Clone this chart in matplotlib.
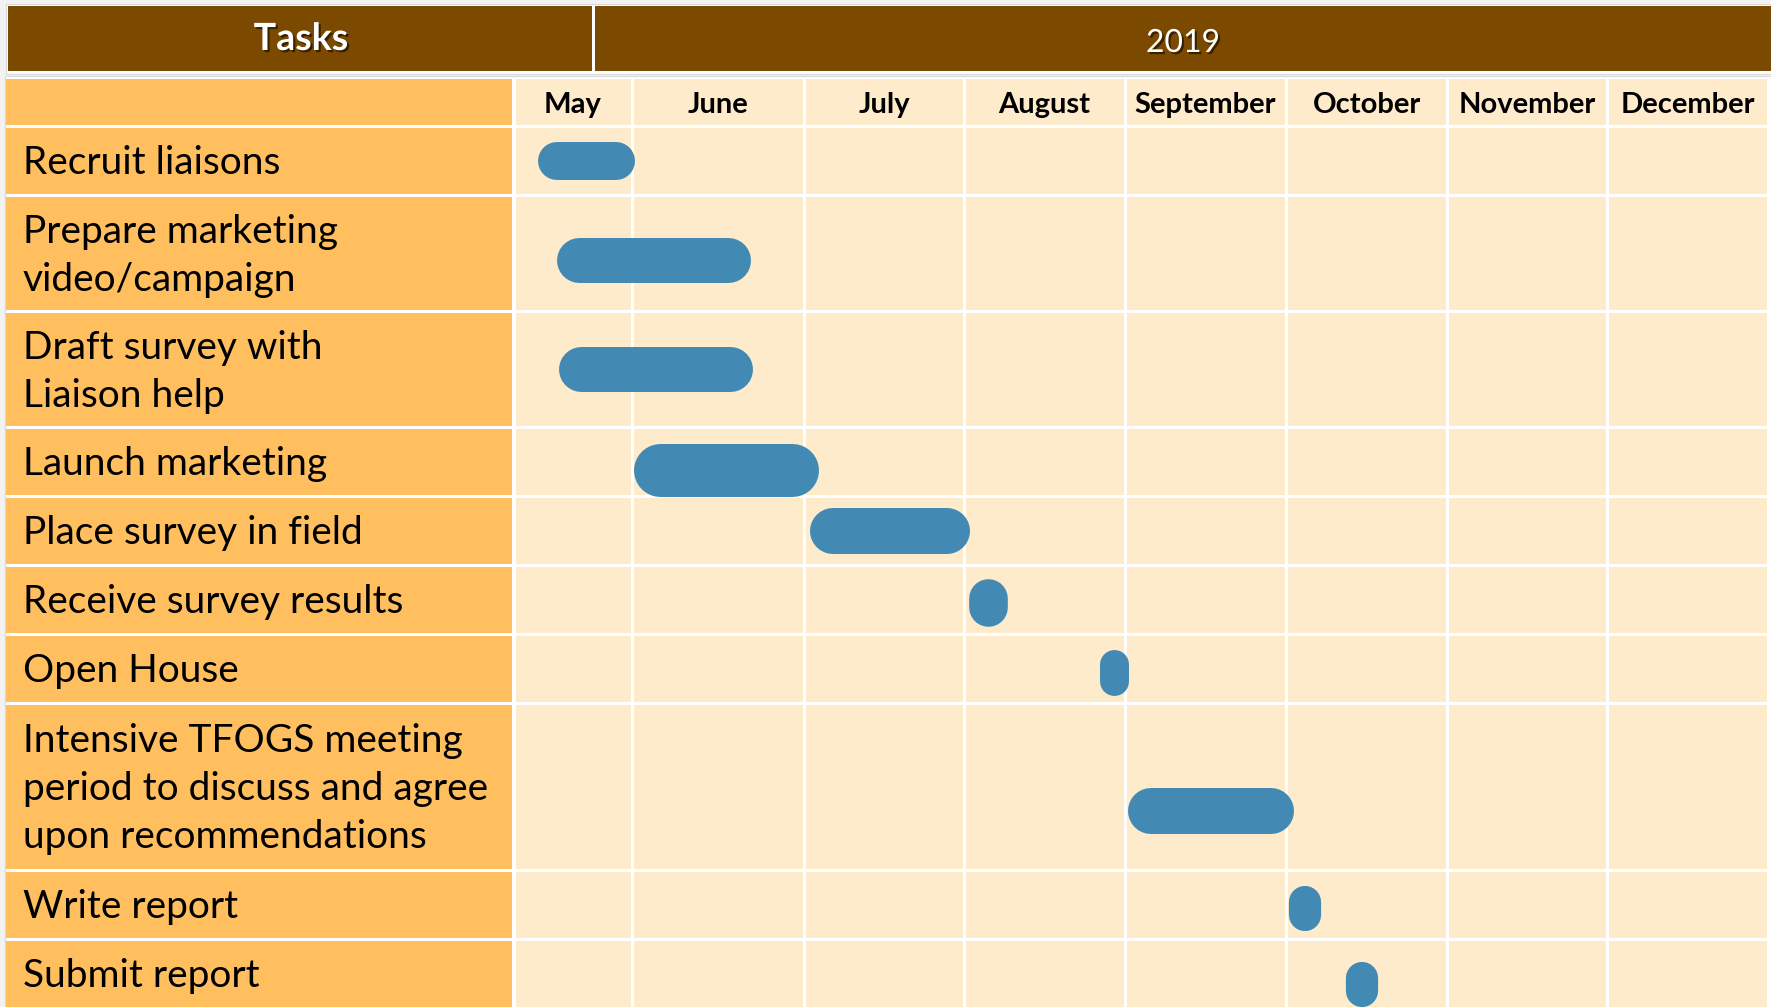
import numpy as np
import matplotlib.pyplot as plt
import matplotlib.patheffects as pe
from matplotlib.patches import Rectangle
from matplotlib.lines import Line2D
from matplotlib.transforms import IdentityTransform

plt.rcParams['font.family'] = ['Lato', 'DejaVu Sans']

# ---- data ----
year = '2019'
months = ['May', 'June', 'July', 'August', 'September', 'October',
          'November', 'December']
tasks = ['Recruit liaisons',
         'Prepare marketing\nvideo/campaign',
         'Draft survey with\nLiaison help',
         'Launch marketing',
         'Place survey in field',
         'Receive survey results',
         'Open House',
         'Intensive TFOGS meeting\nperiod to discuss and agree\nupon recommendations',
         'Write report',
         'Submit report']
# start / end of each task, in months counted from 1 May
task_start = [0.20, 0.36, 0.38, 1.01, 2.04, 3.03, 3.84, 4.02, 5.02, 5.37]
task_end = [1.02, 1.69, 1.70, 2.09, 3.04, 3.27, 4.02, 5.05, 5.22, 5.57]

# ---- layout (pixels) ----
W, H = 1771, 1007
month_edges = [514, 632, 804, 964, 1125, 1286, 1447, 1607, 1768]
row_height = {1: 69, 2: 116, 3: 167}
header_top, rows_top = 79, 126
bar_height = [38, 45, 45, 53, 46, 47, 46, 46, 46, 46]
bar_shift = [0, 7, 0, 8, 0, 3, 4, 24, 4, 11]
line_step, cap = 48, 27

brown = '#7b4900'
orange = '#ffbf5f'
cream = '#feebcb'
blue = '#428ab4'

n_lines = [t.count('\n') + 1 for t in tasks]
row_edges = np.concatenate([[rows_top],
                            rows_top + np.cumsum([row_height[n] for n in n_lines])])
row_mid = (row_edges[:-1] + row_edges[1:]) / 2

fig = plt.figure(figsize=(W / 100, H / 100), dpi=100, facecolor='#f2f2f2')

# base axes in pixel units for header and task column
base = fig.add_axes([0, 0, 1, 1])
base.set_xlim(0, W)
base.set_ylim(H, 0)
base.axis('off')

base.add_patch(Rectangle((6, 4), W - 6, 70, fc='white', ec='#d9d9d9', lw=0.8))
base.add_patch(Rectangle((5, 76), W - 5, H - 76, fc='white', ec='#d9d9d9', lw=0.8))
base.add_patch(Rectangle((8, 6), 584, 65, fc=brown, ec='none'))
base.add_patch(Rectangle((595, 6), W - 595, 65, fc=brown, ec='none'))
shadow = [pe.withSimplePatchShadow(offset=(1.5, -1.5), shadow_rgbFace='black',
                                   alpha=0.55)]
base.text(301, 39, 'Tasks', color='white', fontsize=27, fontweight='bold',
          ha='center', va='center', path_effects=shadow)
base.text(1183, 43, year, color='white', fontsize=23,
          ha='center', va='center', path_effects=shadow)

# task column
base.add_patch(Rectangle((6, header_top), 506.5, rows_top - header_top - 1.5,
                         fc=orange, ec='none'))
for i, label in enumerate(tasks):
    top, bot = row_edges[i], row_edges[i + 1]
    base.add_patch(Rectangle((6, top + 1.5), 506.5, bot - top - 3,
                             fc=orange, ec='none'))
    lines = label.split('\n')
    for k, line in enumerate(lines):
        y = row_mid[i] + cap / 2 + (k - (len(lines) - 1) / 2) * line_step
        base.text(23, y, line, fontsize=28, va='baseline', ha='left')

# month grid: x in months through a piecewise scale
knots = np.arange(len(month_edges))


def fwd(m):
    return np.interp(m, knots, month_edges)


def inv(p):
    return np.interp(p, month_edges, knots)


grid = fig.add_axes([month_edges[0] / W, 0,
                     (month_edges[-1] - month_edges[0]) / W,
                     (H - header_top) / H])
grid.set_xscale('function', functions=(fwd, inv))
grid.set_xlim(0, len(months))
grid.set_ylim(H, header_top)
grid.set_facecolor(cream)
grid.set_xticks([])
grid.set_yticks([])
for s in grid.spines.values():
    s.set_visible(False)

for m in range(len(months) + 1):
    grid.axvline(m, color='white', lw=2.2, clip_on=False)
for y in row_edges:
    grid.axhline(y, color='white', lw=2.2, clip_on=False)

for i, name in enumerate(months):
    grid.text(i + 0.5, 113, name, fontsize=21, fontweight='bold',
              ha='center', va='baseline')

# task bars: pills made of a round-capped stroke, in screen space
for i in range(len(tasks)):
    yc = row_mid[i] + bar_shift[i]
    h = bar_height[i]
    (x0, y0), (x1, y1) = grid.transData.transform(
        [(task_start[i], yc + h / 2), (task_end[i], yc - h / 2)])
    w, hh = x1 - x0, y1 - y0
    xm, ym = (x0 + x1) / 2, (y0 + y1) / 2
    if w >= hh:
        xs, ys, lw = [x0 + hh / 2, x1 - hh / 2], [ym, ym], hh
    else:
        xs, ys, lw = [xm, xm], [y0 + w / 2, y1 - w / 2], w
    fig.add_artist(Line2D(xs, ys, lw=lw * 72 / fig.dpi, color=blue,
                          solid_capstyle='round', transform=IdentityTransform(),
                          zorder=5))

fig.savefig('out.png', dpi=100, facecolor=fig.get_facecolor())
